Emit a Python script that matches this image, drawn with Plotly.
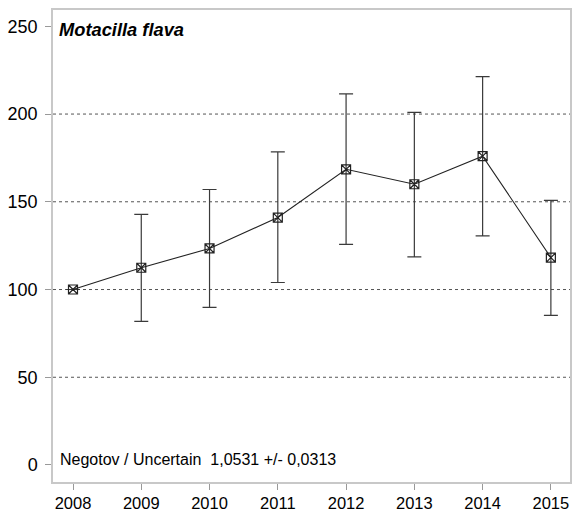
import plotly.graph_objects as go

years = [2008, 2009, 2010, 2011, 2012, 2013, 2014, 2015]
index_vals = [100, 112.4, 123.4, 141, 168.5, 160, 176, 118.2]
upper = [100, 142.8, 157, 178.5, 211.5, 201, 221.3, 150.8]
lower = [100, 81.8, 89.8, 104, 125.7, 118.6, 130.6, 85.3]
grid_vals = [50, 100, 150, 200]
y_ticks = [0, 50, 100, 150, 200, 250]

err_plus = [u - v for u, v in zip(upper, index_vals)]
err_minus = [v - l for v, l in zip(index_vals, lower)]

FONT = "Liberation Sans, Arial, sans-serif"

fig = go.Figure()
fig.add_trace(go.Scatter(
    x=years, y=index_vals, mode="lines+markers",
    line=dict(color="#222222", width=1.1),
    marker=dict(symbol="square-x-open", size=9, color="#222222", line=dict(width=1.2)),
    error_y=dict(type="data", symmetric=False, array=err_plus, arrayminus=err_minus,
                 color="#3a3a3a", thickness=1.2, width=7),
    showlegend=False,
))

for g in grid_vals:
    fig.add_shape(type="line", xref="paper", x0=0, x1=1, yref="y", y0=g, y1=g,
                  line=dict(color="#555555", width=1, dash="dot"), layer="below")

fig.add_annotation(xref="paper", yref="paper", x=0.008, y=0.985, xanchor="left", yanchor="top",
                   text="<b><i>Motacilla flava</i></b>", showarrow=False,
                   font=dict(size=18.3, color="#000000", family=FONT))
fig.add_annotation(xref="paper", yref="y", x=0.01, y=0, xanchor="left", yanchor="bottom",
                   text="Negotov / Uncertain  1,0531 +/- 0,0313", showarrow=False,
                   yshift=-5,
                   font=dict(size=16, color="#000000", family=FONT))

fig.update_layout(
    width=574, height=511,
    margin=dict(l=53, r=4, t=10, b=29),
    paper_bgcolor="white", plot_bgcolor="white",
    font=dict(family=FONT, size=17, color="#000000"),
    xaxis=dict(range=[2007.707, 2015.28], tickvals=years, ticktext=[str(y) for y in years],
               showgrid=False, zeroline=False, showline=True, mirror=True, automargin=False,
               linecolor="#c8c8c8", linewidth=1.5, ticks="outside", ticklen=6,
               tickcolor="#999999", tickfont=dict(size=16.5), ticklabelstandoff=-1),
    yaxis=dict(range=[-9.7, 259.3], tickvals=y_ticks,
               showgrid=False, zeroline=False, showline=True, mirror=True, automargin=False,
               linecolor="#c8c8c8", linewidth=1.5, ticks="outside", ticklen=6,
               tickcolor="#999999", tickfont=dict(size=18), ticklabelstandoff=4),
)

fig.write_html("out.html")
